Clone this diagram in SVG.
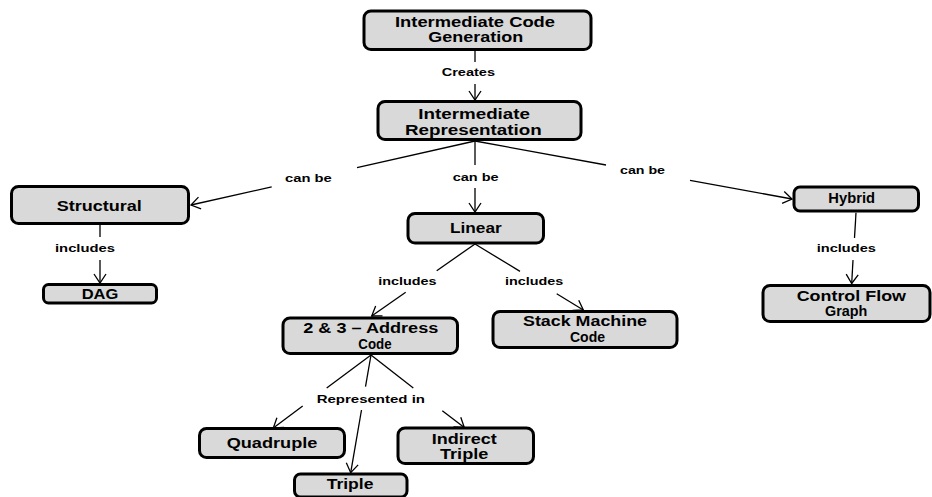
<svg xmlns="http://www.w3.org/2000/svg" width="932" height="497" viewBox="0 0 932 497">
  <defs>
    <marker id="arrow" markerUnits="userSpaceOnUse" markerWidth="14" markerHeight="16" refX="9" refY="6.5" orient="auto" overflow="visible">
      <path d="M0,0.5 L9,6.5 L0,12.5" fill="none" stroke="#000" stroke-width="1.3"/>
    </marker>
    <style>
      .box { fill: #d9d9d9; stroke: #000; stroke-width: 3; }
      .node { font-family: "Liberation Sans", Arial, sans-serif; font-weight: 700; font-size: 13.8px; fill: #000; }
      .lbl { font-family: "Liberation Sans", Arial, sans-serif; font-weight: 700; font-size: 11.2px; fill: #000; }
      .edge { fill: none; stroke: #000; stroke-width: 1.3; }
      .arr { marker-end: url(#arrow); }
    </style>
  </defs>
  <rect width="932" height="497" fill="#fff"/>

  <!-- connectors: each edge is split around its label -->
  <g id="connectors">
    <g id="e-icg-ir">
      <line class="edge" x1="475" y1="50" x2="475" y2="62"/>
      <line class="edge arr" x1="475" y1="84" x2="475" y2="100"/>
      <text class="lbl" x="441.7" y="76" textLength="53.3" lengthAdjust="spacingAndGlyphs">Creates</text>
    </g>
    <g id="e-ir-structural">
      <line class="edge" x1="475" y1="141" x2="357" y2="167.6"/>
      <line class="edge arr" x1="271.7" y1="186.8" x2="191" y2="205"/>
      <text class="lbl" x="285" y="181.7" textLength="46.7" lengthAdjust="spacingAndGlyphs">can be</text>
    </g>
    <g id="e-ir-linear">
      <line class="edge" x1="475" y1="141" x2="475" y2="165"/>
      <line class="edge arr" x1="475" y1="188" x2="475" y2="212"/>
      <text class="lbl" x="452.7" y="181" textLength="46" lengthAdjust="spacingAndGlyphs">can be</text>
    </g>
    <g id="e-ir-hybrid">
      <line class="edge" x1="475" y1="141" x2="606" y2="165"/>
      <line class="edge arr" x1="690" y1="180.3" x2="792" y2="199"/>
      <text class="lbl" x="620" y="174" textLength="45" lengthAdjust="spacingAndGlyphs">can be</text>
    </g>
    <g id="e-structural-dag">
      <line class="edge" x1="100" y1="225" x2="100" y2="237"/>
      <line class="edge arr" x1="100" y1="260" x2="100" y2="283"/>
      <text class="lbl" x="55" y="252" textLength="60" lengthAdjust="spacingAndGlyphs">includes</text>
    </g>
    <g id="e-hybrid-cfg">
      <line class="edge" x1="856" y1="212.7" x2="854.5" y2="238"/>
      <line class="edge arr" x1="853" y1="260" x2="851.7" y2="283.5"/>
      <text class="lbl" x="816.7" y="252" textLength="59.3" lengthAdjust="spacingAndGlyphs">includes</text>
    </g>
    <g id="e-linear-address">
      <line class="edge" x1="475" y1="244" x2="436.7" y2="270.7"/>
      <line class="edge arr" x1="405.7" y1="292.3" x2="371.7" y2="316"/>
      <text class="lbl" x="378.3" y="285" textLength="58.3" lengthAdjust="spacingAndGlyphs">includes</text>
    </g>
    <g id="e-linear-stack">
      <line class="edge" x1="475" y1="244" x2="520" y2="271.4"/>
      <line class="edge arr" x1="556.7" y1="293.8" x2="583.3" y2="310"/>
      <text class="lbl" x="505" y="285" textLength="58.3" lengthAdjust="spacingAndGlyphs">includes</text>
    </g>
    <g id="e-address-children">
      <line class="edge" x1="371" y1="355" x2="326.7" y2="388"/>
      <line class="edge arr" x1="302.7" y1="406" x2="273.3" y2="428"/>
      <line class="edge" x1="371" y1="355" x2="365.5" y2="386.7"/>
      <line class="edge arr" x1="361.5" y1="410" x2="350.7" y2="472.7"/>
      <line class="edge" x1="371" y1="355" x2="413.3" y2="388"/>
      <line class="edge arr" x1="442.3" y1="410.8" x2="464.3" y2="427.5"/>
      <text class="lbl" x="316.7" y="402.7" textLength="108.3" lengthAdjust="spacingAndGlyphs">Represented in</text>
    </g>
  </g>

  <g id="icg">
    <rect class="box" x="364" y="11" width="227" height="38.5" rx="7"/>
    <text class="node" x="395" y="26.7" textLength="160" lengthAdjust="spacingAndGlyphs">Intermediate Code</text>
    <text class="node" x="428.3" y="42.3" textLength="95" lengthAdjust="spacingAndGlyphs">Generation</text>
  </g>
  <g id="ir">
    <rect class="box" x="378" y="101.5" width="203" height="38" rx="7"/>
    <text class="node" x="418.3" y="119" textLength="111.7" lengthAdjust="spacingAndGlyphs">Intermediate</text>
    <text class="node" x="405" y="134.6" textLength="136.7" lengthAdjust="spacingAndGlyphs">Representation</text>
  </g>
  <g id="structural">
    <rect class="box" x="11.5" y="186.5" width="177" height="37" rx="7"/>
    <text class="node" x="56.7" y="210.5" textLength="85" lengthAdjust="spacingAndGlyphs">Structural</text>
  </g>
  <g id="dag">
    <rect class="box" x="43.5" y="284.5" width="113" height="18.5" rx="5"/>
    <text class="node" x="81.7" y="299.3" textLength="36.7" lengthAdjust="spacingAndGlyphs">DAG</text>
  </g>
  <g id="hybrid">
    <rect class="box" x="794" y="187" width="124.5" height="24" rx="6"/>
    <text class="node" x="828.3" y="203.3" textLength="46.7" lengthAdjust="spacingAndGlyphs">Hybrid</text>
  </g>
  <g id="cfg">
    <rect class="box" x="763" y="285.5" width="167" height="36" rx="7"/>
    <text class="node" x="796.7" y="300.5" textLength="109.3" lengthAdjust="spacingAndGlyphs">Control Flow</text>
    <text class="node" x="825" y="316.1" textLength="42.3" lengthAdjust="spacingAndGlyphs">Graph</text>
  </g>
  <g id="linear">
    <rect class="box" x="408" y="213.5" width="135.5" height="29.5" rx="7"/>
    <text class="node" x="450" y="233.3" textLength="51.7" lengthAdjust="spacingAndGlyphs">Linear</text>
  </g>
  <g id="address-code">
    <rect class="box" x="283" y="318" width="174.5" height="35.5" rx="7"/>
    <text class="node" x="303.3" y="333.2" textLength="135" lengthAdjust="spacingAndGlyphs">2 &amp; 3 – Address</text>
    <text class="node" x="358.3" y="348.8" textLength="33.3" lengthAdjust="spacingAndGlyphs">Code</text>
  </g>
  <g id="stack-machine">
    <rect class="box" x="493" y="311.5" width="184" height="36" rx="7"/>
    <text class="node" x="523" y="326" textLength="124" lengthAdjust="spacingAndGlyphs">Stack Machine</text>
    <text class="node" x="570" y="341.6" textLength="35" lengthAdjust="spacingAndGlyphs">Code</text>
  </g>
  <g id="quadruple">
    <rect class="box" x="199.5" y="428.5" width="145" height="29" rx="7"/>
    <text class="node" x="226.7" y="448.3" textLength="90.7" lengthAdjust="spacingAndGlyphs">Quadruple</text>
  </g>
  <g id="indirect-triple">
    <rect class="box" x="398" y="428" width="135.5" height="35.5" rx="7"/>
    <text class="node" x="431.7" y="443.8" textLength="65" lengthAdjust="spacingAndGlyphs">Indirect</text>
    <text class="node" x="440" y="459.4" textLength="48.3" lengthAdjust="spacingAndGlyphs">Triple</text>
  </g>
  <g id="triple">
    <rect class="box" x="294.5" y="474" width="112.5" height="23" rx="6"/>
    <text class="node" x="326.7" y="489.3" textLength="46.7" lengthAdjust="spacingAndGlyphs">Triple</text>
  </g>
</svg>
